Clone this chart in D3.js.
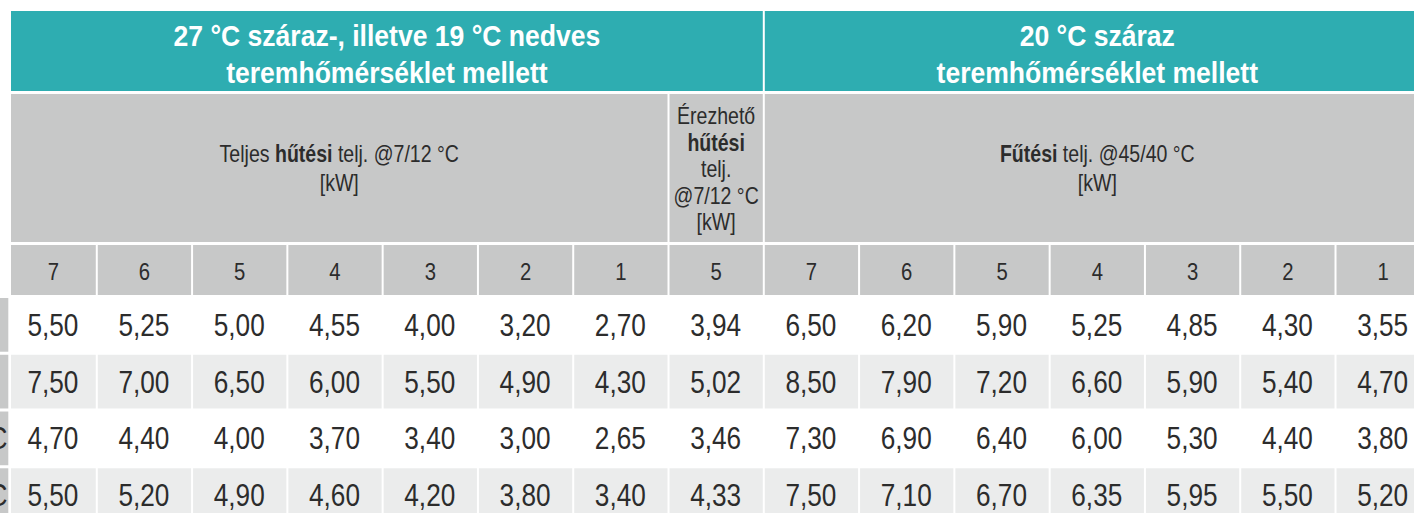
<!DOCTYPE html>
<html>
<head>
<meta charset="utf-8">
<script src="https://cdn.jsdelivr.net/npm/d3@7"></script>
<style>
  html, body { margin: 0; padding: 0; background: #fff; overflow: hidden; }
  svg { display: block; }
  text { font-family: "Liberation Sans", Arial, sans-serif; }
</style>
</head>
<body>
<svg id="chart" width="1414" height="513"></svg>
<script>
// ---- data ----
const groupTitles = [
  ["27 °C száraz-, illetve 19 °C nedves", "teremhőmérséklet mellett"],
  ["20 °C száraz", "teremhőmérséklet mellett"]
];
const columnLabels = ["7", "6", "5", "4", "3", "2", "1", "5", "7", "6", "5", "4", "3", "2", "1"];
const rowLabels = ["", "", "°C", "°C"];
const row1 = [5.50, 5.25, 5.00, 4.55, 4.00, 3.20, 2.70, 3.94, 6.50, 6.20, 5.90, 5.25, 4.85, 4.30, 3.55];
const row2 = [7.50, 7.00, 6.50, 6.00, 5.50, 4.90, 4.30, 5.02, 8.50, 7.90, 7.20, 6.60, 5.90, 5.40, 4.70];
const row3 = [4.70, 4.40, 4.00, 3.70, 3.40, 3.00, 2.65, 3.46, 7.30, 6.90, 6.40, 6.00, 5.30, 4.40, 3.80];
const row4 = [5.50, 5.20, 4.90, 4.60, 4.20, 3.80, 3.40, 4.33, 7.50, 7.10, 6.70, 6.35, 5.95, 5.50, 5.20];
const rows = [row1, row2, row3, row4];

// ---- style ----
const TEAL = "#2eadb1", GREY = "#c7c8c8", LIGHT = "#ebecec", INK = "#2c2c2c";
const svg = d3.select("#chart");

// condensed look: measure a sample string and derive a horizontal scale
function narrowScale(sample, size, bold, targetWidth) {
  const t = svg.append("text").attr("font-size", size).attr("font-weight", bold ? "bold" : "normal").text(sample);
  const w = t.node().getComputedTextLength();
  t.remove();
  return targetWidth / w;
}
const SX_TITLE = narrowScale("27 °C száraz-, illetve 19 °C nedves", 30, true, 427);
const SX_HEAD = narrowScale("Teljes hűtési telj. @7/12 °C", 23, false, 234);
const SX_NUM = narrowScale("5,50", 31, false, 51);

function addText(px, py, sx, size) {
  return svg.append("text")
    .attr("transform", `translate(${px},${py}) scale(${sx},1)`)
    .attr("font-size", size);
}

// columns: band scale over 15 columns; first column's left edge is the table edge
const x = d3.scaleBand().domain(d3.range(15)).range([2.5, 1429.8]).paddingInner(2 / 95.15).paddingOuter(0);
const tableLeft = 11;
const colL = i => i === 0 ? tableLeft : x(i);
const colR = i => x(i) + x.bandwidth();
const colC = i => (colL(i) + colR(i)) / 2;

// rows
const y = d3.scaleBand().domain(d3.range(rows.length)).range([298, 298 + 56 * rows.length]).paddingInner(3 / 56).paddingOuter(0);

const fmt = v => d3.format(".2f")(v).replace(".", ",");

// ---- top teal headers ----
const groups = [{ from: 0, to: 7, lines: groupTitles[0] }, { from: 8, to: 14, lines: groupTitles[1] }];
groups.forEach(g => {
  const l = colL(g.from), r = colR(g.to);
  svg.append("rect").attr("x", l).attr("y", 11).attr("width", r - l).attr("height", 80).attr("fill", TEAL);
  g.lines.forEach((t, k) => {
    addText((l + r) / 2, 45.5 + k * 37, SX_TITLE, 30)
      .attr("text-anchor", "middle").attr("fill", "#fff").attr("font-weight", "bold").text(t);
  });
});

// ---- grey sub-headers ----
const subHeaders = [
  { from: 0, to: 6, base: 162, lh: 29, lines: [[["Teljes ", false], ["hűtési", true], [" telj. @7/12 °C", false]], [["[kW]", false]]] },
  { from: 7, to: 7, base: 124, lh: 26.6, lines: [[["Érezhető", false]], [["hűtési", true]], [["telj.", false]], [["@7/12 °C", false]], [["[kW]", false]]] },
  { from: 8, to: 14, base: 162, lh: 29, lines: [[["Fűtési", true], [" telj. @45/40 °C", false]], [["[kW]", false]]] }
];
subHeaders.forEach(h => {
  const l = colL(h.from), r = colR(h.to);
  svg.append("rect").attr("x", l).attr("y", 94).attr("width", r - l).attr("height", 148).attr("fill", GREY);
  h.lines.forEach((parts, k) => {
    const t = addText((l + r) / 2, h.base + k * h.lh, SX_HEAD, 23)
      .attr("text-anchor", "middle").attr("fill", INK);
    parts.forEach(([s, b]) => t.append("tspan").attr("font-weight", b ? "bold" : "normal").text(s));
  });
});

// ---- column number row ----
columnLabels.forEach((lab, i) => {
  svg.append("rect").attr("x", colL(i)).attr("y", 245).attr("width", colR(i) - colL(i)).attr("height", 50).attr("fill", GREY);
  addText(colC(i), 279.5, SX_NUM, 24).attr("text-anchor", "middle").attr("fill", INK).text(lab);
});

// ---- data rows ----
rows.forEach((vals, r) => {
  const fill = r % 2 === 0 ? "#ffffff" : LIGHT;
  // row header (cut by the left edge, as in the source)
  svg.append("rect").attr("x", -100).attr("y", y(r)).attr("width", 108.3).attr("height", y.bandwidth()).attr("fill", GREY);
  addText(7.5, y(r) + y.bandwidth() / 2 + 11, SX_NUM, 31).attr("text-anchor", "end").attr("fill", INK).text(rowLabels[r]);
  vals.forEach((v, i) => {
    svg.append("rect").attr("x", colL(i)).attr("y", y(r)).attr("width", colR(i) - colL(i)).attr("height", y.bandwidth()).attr("fill", fill);
    addText(colC(i) - 0.5, y(r) + y.bandwidth() / 2 + 11, SX_NUM, 31)
      .attr("text-anchor", "middle").attr("fill", INK).text(fmt(v));
  });
});
</script>
</body>
</html>
